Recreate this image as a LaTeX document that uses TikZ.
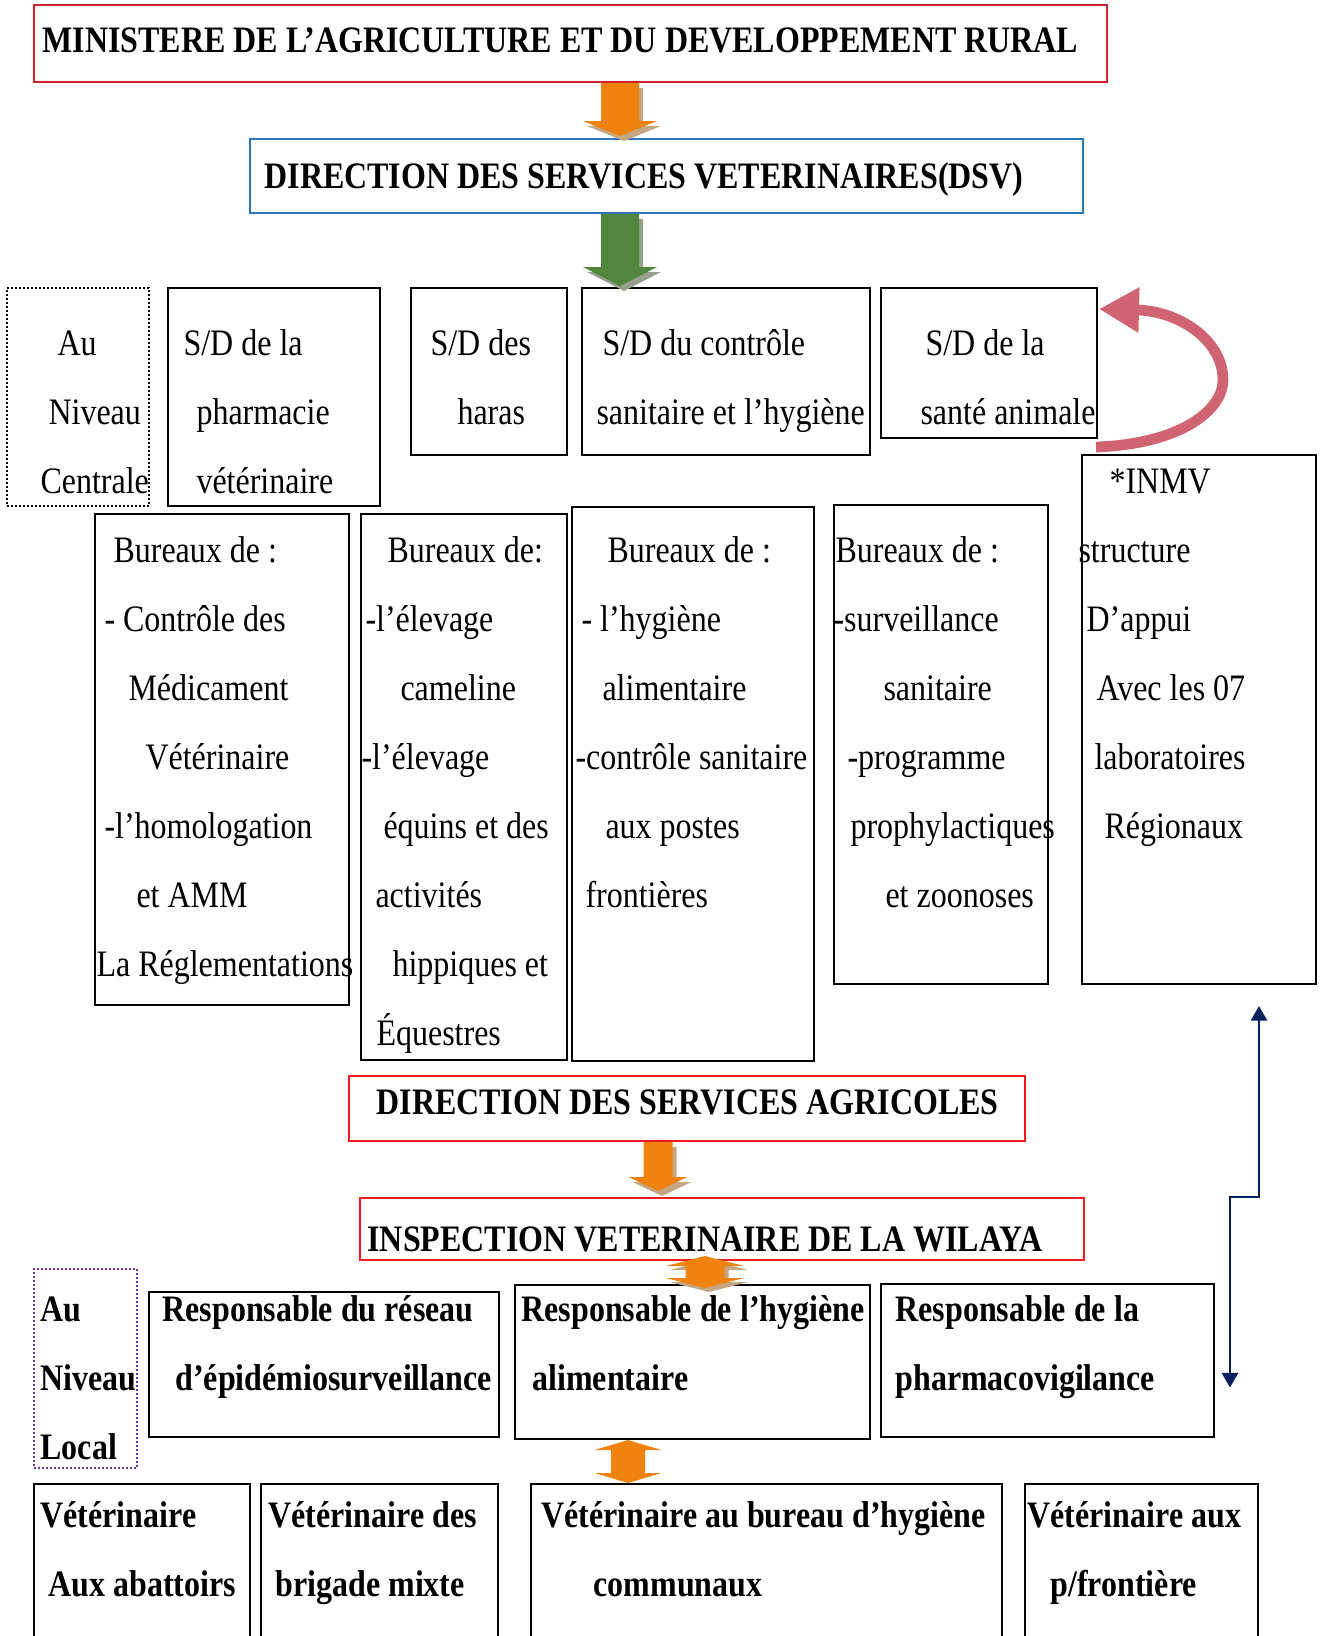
\documentclass[tikz,border=0pt]{standalone}
\usepackage{fontspec}
\setmainfont{Liberation Serif}[FakeStretch=0.857]
\usetikzlibrary{arrows.meta, calc, fit}

\definecolor{minred}{RGB}{205,35,45}
\definecolor{agrired}{RGB}{240,25,30}
\definecolor{dsvblue}{RGB}{46,117,182}
\definecolor{arrorange}{RGB}{240,130,15}
\definecolor{arrgreen}{RGB}{80,135,60}
\definecolor{shadetan}{RGB}{196,166,130}
\definecolor{shadegrey}{RGB}{150,158,140}
\definecolor{curvered}{RGB}{208,100,115}
\definecolor{linknavy}{RGB}{0,32,96}
\definecolor{localpurple}{RGB}{112,48,160}

\newlength\pxu
\setlength\pxu{0.375pt}
\newcommand{\ind}[1]{\hspace*{#1\pxu}}

% block arrows: from, tip, half shaft, half head, head length, colour
\newcommand{\downblock}[6]{%
  \fill[#6] let \p1=#1, \p2=#2 in
    (\x1-#3*\pxu,\y1) -- (\x1+#3*\pxu,\y1) -- (\x1+#3*\pxu,\y2+#5*\pxu)
    -- (\x1+#4*\pxu,\y2+#5*\pxu) -- (\x1,\y2) -- (\x1-#4*\pxu,\y2+#5*\pxu)
    -- (\x1-#3*\pxu,\y2+#5*\pxu) -- cycle;}
\newcommand{\bothblock}[6]{%
  \fill[#6] let \p1=#1, \p2=#2 in
    (\x1,\y1) -- (\x1+#4*\pxu,\y1-#5*\pxu) -- (\x1+#3*\pxu,\y1-#5*\pxu)
    -- (\x1+#3*\pxu,\y2+#5*\pxu) -- (\x1+#4*\pxu,\y2+#5*\pxu) -- (\x1,\y2)
    -- (\x1-#4*\pxu,\y2+#5*\pxu) -- (\x1-#3*\pxu,\y2+#5*\pxu)
    -- (\x1-#3*\pxu,\y1-#5*\pxu) -- (\x1-#4*\pxu,\y1-#5*\pxu) -- cycle;}

\tikzset{
  box/.style={draw, line width=0.75pt, inner sep=0pt},
  dotbox/.style={draw, line width=0.7pt, dash pattern=on 0.7pt off 0.8pt, inner sep=0pt},
  txt/.style={anchor=north west, inner sep=0pt, align=left, font=\fontsize{14}{25.875}\selectfont},
  btxt/.style={txt, font=\fontsize{14}{25.875}\selectfont\bfseries}
}

\begin{document}
\begin{tikzpicture}[x=0.375pt, y=-0.375pt]
\useasboundingbox (0,0) rectangle (1319,1636);

% Ministere and DSV
\node[box, draw=minred, fit={(34,5) (1107,82)}] (ministere) {};
\node[btxt] (ministeretxt) at (42,3.7) {\strut MINISTERE DE L’AGRICULTURE ET DU DEVELOPPEMENT RURAL};
\node[box, draw=dsvblue, fit={(250,139) (1083,213)}] (dsv) {};
\node[btxt] (dsvtxt) at (264,139.7) {\strut DIRECTION DES SERVICES VETERINAIRES(DSV)};

% Central level: sub-directions
\node[dotbox, fit={(7,288) (149,506)}] (centrale) {};
\node[txt] (centraletxt) at (40,306.7) {\strut\ind{17}Au\\\ind{8}Niveau\\Centrale};
\node[box, fit={(168,288) (380,506)}] (pharmacie) {};
\node[txt] (pharmacietxt) at (183,306.7) {\strut S/D de la\\\ind{13}pharmacie\\\ind{13}vétérinaire};
\node[box, fit={(411,288) (567,455)}] (haras) {};
\node[txt] (harastxt) at (430,306.7) {\strut S/D des\\\ind{27}haras};
\node[box, fit={(582,288) (870,455)}] (controle) {};
\node[txt] (controletxt) at (596,306.7) {\strut\ind{6}S/D du contrôle\\sanitaire et l’hygiène};
\node[box, fit={(881,288) (1097,438)}] (sante) {};
\node[txt] (santetxt) at (920,306.7) {\strut\ind{5}S/D de la\\santé animale};

% Bureaux
\node[box, fit={(95,514) (349,1005)}] (bureauA) {};
\node[txt] (bureauAtxt) at (96,513.7) {\strut\ind{17}Bureaux de :\\\ind{8}- Contrôle des\\\ind{32}Médicament\\\ind{49}Vétérinaire\\\ind{8}-l’homologation\\\ind{40}et AMM\\La Réglementations};
\node[box, fit={(361,514) (567,1060)}] (bureauB) {};
\node[txt] (bureauBtxt) at (361,513.7) {\strut\ind{26}Bureaux de:\\\ind{4}-l’élevage\\\ind{39}cameline\\-l’élevage\\\ind{22}équins et des\\\ind{14}activités\\\ind{31}hippiques et\\\ind{15}Équestres};
\node[box, fit={(572,507) (814,1061)}] (bureauC) {};
\node[txt] (bureauCtxt) at (575,513.7) {\strut\ind{32}Bureaux de :\\\ind{6}- l’hygiène\\\ind{27}alimentaire\\-contrôle sanitaire\\\ind{30}aux postes\\\ind{10}frontières};
\node[box, fit={(834,505) (1048,984)}] (bureauD) {};
\node[txt] (bureauDtxt) at (833,513.7) {\strut\ind{2}Bureaux de :\\-surveillance\\\ind{50}sanitaire\\\ind{14}-programme\\\ind{17}prophylactiques\\\ind{52}et zoonoses};
\node[box, fit={(1082,455) (1316,984)}] (inmv) {};
\node[txt] (inmvtxt) at (1078,444.7) {\strut\ind{31}*INMV\\structure\\\ind{8}D’appui\\\ind{18}Avec les 07\\\ind{16}laboratoires\\\ind{26}Régionaux};

% Agricultural services and wilaya inspection
\node[box, draw=agrired, fit={(349,1076) (1025,1141)}] (dsa) {};
\node[btxt] (dsatxt) at (376,1065.7) {\strut DIRECTION DES SERVICES AGRICOLES};
\node[box, draw=agrired, fit={(360,1198) (1084,1260)}] (inspection) {};
\node[btxt] (inspectiontxt) at (367,1202.7) {\strut INSPECTION VETERINAIRE DE LA WILAYA};

% Local level
\node[dotbox, draw=localpurple, fit={(34,1269) (137,1468)}] (local) {};
\node[btxt] (localtxt) at (40,1272.7) {\strut Au\\Niveau\\Local};
\node[box, fit={(149,1292) (499,1437)}] (reseau) {};
\node[btxt] (reseautxt) at (162,1272.7) {\strut Responsable du réseau\\\ind{13}d’épidémiosurveillance};
\node[box, fit={(515,1285) (870,1439)}] (hygiene) {};
\node[btxt] (hygienetxt) at (521,1272.7) {\strut Responsable de l’hygiène\\\ind{11}alimentaire};
\node[box, fit={(881,1284) (1214,1437)}] (pharmaco) {};
\node[btxt] (pharmacotxt) at (895,1272.7) {\strut Responsable de la\\pharmacovigilance};

\node[box, fit={(34,1484) (250,1660)}] (vet1) {};
\node[btxt] (vet1txt) at (40,1478.7) {\strut Vétérinaire\\\ind{8}Aux abattoirs};
\node[box, fit={(261,1484) (498,1660)}] (vet2) {};
\node[btxt] (vet2txt) at (268,1478.7) {\strut Vétérinaire des\\\ind{7}brigade mixte};
\node[box, fit={(531,1484) (1002,1660)}] (vet3) {};
\node[btxt] (vet3txt) at (541,1478.7) {\strut Vétérinaire au bureau d’hygiène\\\ind{52}communaux};
\node[box, fit={(1025,1484) (1258,1660)}] (vet4) {};
\node[btxt] (vet4txt) at (1027,1478.7) {\strut Vétérinaire aux\\\ind{23}p/frontière};

% Block arrows
\coordinate (a1) at (620,0 |- ministere.south);
\coordinate (a1tip) at ($(620,0 |- dsv.north)+(0,-2)$);
\downblock{($(a1)+(4,5)$)}{($(a1tip)+(4,5)$)}{19}{37}{15}{shadetan}
\downblock{(a1)}{(a1tip)}{19}{37}{15}{arrorange}
\coordinate (a2) at (620,0 |- dsv.south);
\coordinate (a2tip) at ($(620,0 |- controle.north)+(0,-1)$);
\downblock{($(a2)+(4,5)$)}{($(a2tip)+(4,5)$)}{19}{37}{19}{shadegrey}
\downblock{(a2)}{(a2tip)}{19}{37}{19}{arrgreen}
\coordinate (a3) at (658,0 |- dsa.south);
\coordinate (a3tip) at ($(658,0 |- inspection.north)+(0,-6)$);
\downblock{($(a3)+(4,5)$)}{($(a3tip)+(4,5)$)}{14.5}{29.5}{14}{shadetan}
\downblock{(a3)}{(a3tip)}{14.5}{29.5}{14}{arrorange}
\coordinate (a4) at ($(705,0 |- inspection.south)+(0,-5)$);
\coordinate (a4tip) at ($(705,0 |- hygiene.north)+(0,4)$);
\bothblock{($(a4)+(4,4)$)}{($(a4tip)+(4,4)$)}{19.5}{39}{10}{shadetan}
\bothblock{(a4)}{(a4tip)}{19.5}{39}{10}{arrorange}
\coordinate (a5) at (628,0 |- hygiene.south);
\coordinate (a5tip) at (628,0 |- vet3.north);
\bothblock{(a5)}{(a5tip)}{17}{33.5}{10}{arrorange}

% Curved link INMV -> sante animale
\draw[curvered, line width=4pt, -{Triangle[length=15pt,width=16pt]}]
  ($(inmv.north west)+(15,-7)$) .. controls +(85,-3) and +(0,30) .. ($(sante.east)+(125,17)$)
  .. controls +(0,-40) and +(80,2) .. ($(sante.north east)+(1,22)$);

% Link INMV <-> pharmacovigilance
\coordinate (inmvlink) at ($(inmv.south)+(60,21)$);
\coordinate (pharmalink) at ($(pharmaco.east)+(15,27)$);
\draw[linknavy, line width=1.1pt, {Triangle[length=5.5pt,width=6pt]}-{Triangle[length=5.5pt,width=6pt]}]
  (inmvlink) -- ++(0,191) -| (pharmalink);

\end{tikzpicture}
\end{document}
